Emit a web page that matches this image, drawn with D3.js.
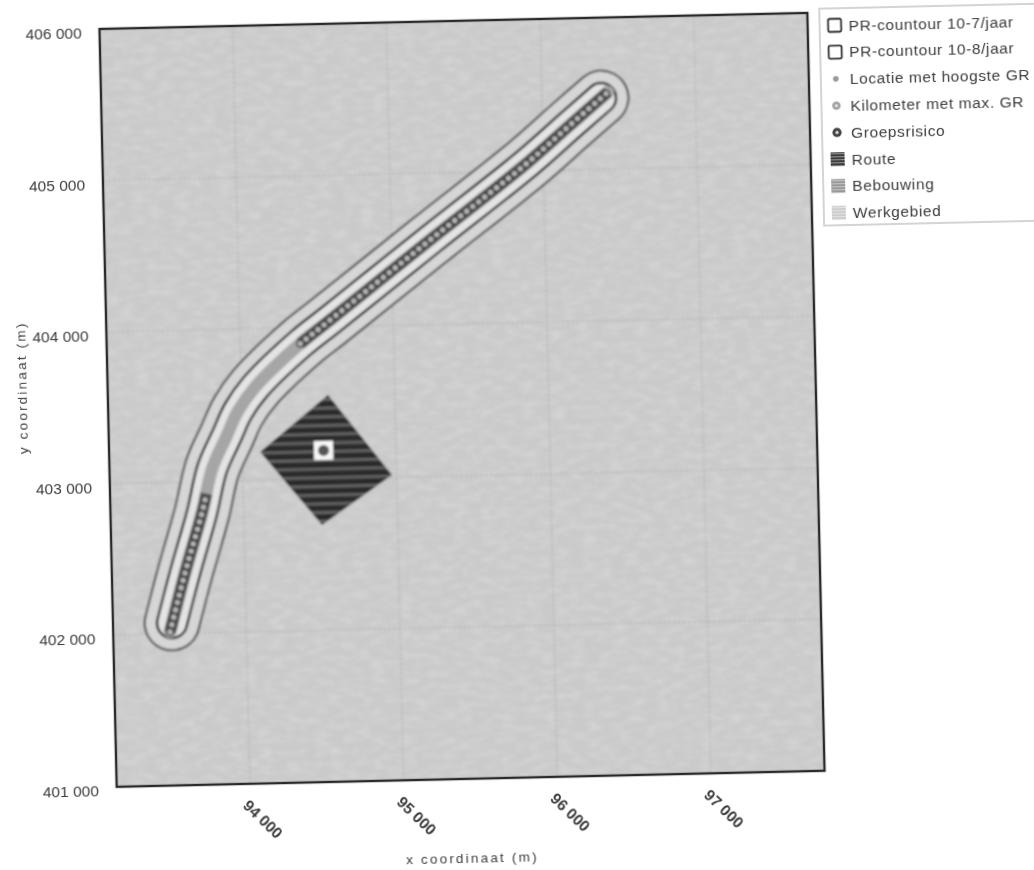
<!DOCTYPE html>
<html>
<head>
<meta charset="utf-8">
<script src="https://cdnjs.cloudflare.com/ajax/libs/d3/7.8.5/d3.min.js"></script>
<style>
  body { margin: 0; background: #fff; }
  text { font-family: "Liberation Sans", Arial, sans-serif; fill: #3c3c3c; }
</style>
</head>
<body>
<div id="chart"></div>
<script>
// values, in metres
var xTicks = [94000, 95000, 96000, 97000];
var yTicks = [401000, 402000, 403000, 404000, 405000, 406000];
var xDomain = [93133, 97739];
var yDomain = [401000, 406000];

var routeX = [93503, 93609, 93728, 93802, 93900, 93978, 94092, 94392, 94589, 95251, 95894, 96179, 96431];
var routeY = [402013, 402400, 402793, 403087, 403297, 403460, 403615, 403895, 404046, 404559, 405052, 405296, 405509];

// axis of the risk contours, a bit shorter than the route
var contourX = [93517, 93609, 93728, 93802, 93900, 93978, 94092, 94392, 94589, 95251, 95894, 96179, 96385];
var contourY = [402072, 402400, 402793, 403087, 403297, 403460, 403615, 403895, 404046, 404559, 405052, 405296, 405470];

// the two stretches of the route with the dark chain of km points
var chainSouthX = [93503, 93609, 93728, 93760];
var chainSouthY = [402013, 402400, 402793, 402920];
var chainNorthX = routeX.slice(7);
var chainNorthY = routeY.slice(7);

var areaX = [94565, 94970, 94507, 94115];
var areaY = [403552, 403015, 402696, 403187];

var buildingX = [94466, 94590];
var buildingY = [403125, 403250];
var riskX = [94528];
var riskY = [403187];

var legendLabels = ["PR-countour 10-7/jaar", "PR-countour 10-8/jaar", "Locatie met hoogste GR",
  "Kilometer met max. GR", "Groepsrisico", "Route", "Bebouwing", "Werkgebied"];
var legendKinds = ["box", "box", "dotS", "dotM", "dotL", "route", "building", "area"];

var W = 1034, H = 870;
var plotW = 708, plotH = 758;
var bg = "#cacaca";

var x = d3.scaleLinear().domain(xDomain).range([0, plotW]);
var y = d3.scaleLinear().domain(yDomain).range([plotH, 0]);

var svg = d3.select("#chart").append("svg").attr("width", W).attr("height", H).style("display", "block");
var defs = svg.append("defs");

// scanner softness
function blur(id, amount) {
  defs.append("filter").attr("id", id)
    .attr("filterUnits", "userSpaceOnUse")
    .attr("x", -150).attr("y", -60).attr("width", W + 300).attr("height", H + 120)
    .append("feGaussianBlur").attr("stdDeviation", amount);
}
blur("soft", 0.4);
blur("softer", 0.8);

// blocky jpeg-like noise on the plot background
var noise = defs.append("filter").attr("id", "grain")
  .attr("x", 0).attr("y", 0).attr("width", 1).attr("height", 1);
noise.append("feTurbulence").attr("type", "fractalNoise")
  .attr("baseFrequency", "0.07 0.16").attr("numOctaves", 3).attr("seed", 9);
noise.append("feColorMatrix").attr("values", "0 0 0 0 1  0 0 0 0 1  0 0 0 0 1  1.5 0 0 0 -0.6");

function stripes(id, size, base, line, lineH) {
  var p = defs.append("pattern").attr("id", id).attr("patternUnits", "userSpaceOnUse")
    .attr("width", size).attr("height", size);
  p.append("rect").attr("width", size).attr("height", size).attr("fill", base);
  p.append("rect").attr("width", size).attr("height", lineH).attr("fill", line);
}
stripes("areaFill", 8.7, "#2c2c2c", "#686868", 2.6);
stripes("routeIcon", 3, "#3a3a3a", "#9a9a9a", 1);
stripes("buildingIcon", 3, "#8c8c8c", "#d4d4d4", 1.2);
stripes("areaIcon", 3, "#b8b8b8", "#f0f0f0", 1.5);

// whole drawing sits slightly crooked, it is a scan
var g = svg.append("g")
  .attr("transform", "translate(99.5,29) rotate(-1.3)");

var plot = g.append("g").attr("filter", "url(#softer)");
plot.append("rect").attr("width", plotW).attr("height", plotH).attr("fill", bg);
plot.append("rect").attr("width", plotW).attr("height", plotH).attr("filter", "url(#grain)").attr("opacity", 0.28);

// grid
plot.selectAll(".gx").data(xTicks).enter().append("line")
  .attr("x1", function(d) { return x(d); }).attr("x2", function(d) { return x(d); })
  .attr("y1", 0).attr("y2", plotH)
  .attr("stroke", "#b4b4b4").attr("stroke-width", 1.2).attr("stroke-dasharray", "3 2");
plot.selectAll(".gy").data(yTicks.slice(1, -1)).enter().append("line")
  .attr("x1", 0).attr("x2", plotW)
  .attr("y1", function(d) { return y(d); }).attr("y2", function(d) { return y(d); })
  .attr("stroke", "#b4b4b4").attr("stroke-width", 1.2).attr("stroke-dasharray", "3 2");

function linePath(xs, ys) {
  var line = d3.line().curve(d3.curveCatmullRom)
    .x(function(d) { return x(d); })
    .y(function(d, i) { return y(ys[i]); });
  return line(xs);
}

function tube(xs, ys, width, color) {
  return plot.append("path").attr("d", linePath(xs, ys))
    .attr("fill", "none").attr("stroke", color).attr("stroke-width", width)
    .attr("stroke-linecap", "round").attr("stroke-linejoin", "round");
}

// contours: a wide dark tube with a slightly narrower one on top
tube(contourX, contourY, 57, "#4a4a4a");
tube(contourX, contourY, 52.5, "#d6d6d6");
tube(contourX, contourY, 32.5, "#151515");
tube(contourX, contourY, 27.5, "#e4e4e4");

// route body
tube(routeX, routeY, 12.5, "#a6a6a6");

// ring chain on the two dark stretches
function chain(xs, ys) {
  var path = plot.append("path").attr("d", linePath(xs, ys))
    .attr("fill", "none").attr("stroke", "#555").attr("stroke-width", 12);
  var node = path.node();
  var steps = d3.range(0, node.getTotalLength(), 7.6);
  plot.selectAll(null).data(steps).enter().append("circle")
    .attr("cx", function(d) { return node.getPointAtLength(d).x; })
    .attr("cy", function(d) { return node.getPointAtLength(d).y; })
    .attr("r", 3.4)
    .attr("fill", "#b8b8b8").attr("stroke", "#333").attr("stroke-width", 1.5);
}
chain(chainSouthX, chainSouthY);
chain(chainNorthX, chainNorthY);

// werkgebied diamond
plot.append("polygon")
  .attr("points", areaX.map(function(d, i) { return x(d) + "," + y(areaY[i]); }).join(" "))
  .attr("fill", "url(#areaFill)");

plot.append("rect")
  .attr("x", x(buildingX[0])).attr("y", y(buildingY[1]))
  .attr("width", x(buildingX[1]) - x(buildingX[0]))
  .attr("height", y(buildingY[0]) - y(buildingY[1]))
  .attr("fill", "#f8f8f8");
plot.selectAll(".risk").data(riskX).enter().append("circle")
  .attr("cx", function(d) { return x(d); })
  .attr("cy", function(d, i) { return y(riskY[i]); })
  .attr("r", 5.5).attr("fill", "#555");

var labels = g.append("g").attr("filter", "url(#soft)");

labels.append("rect").attr("width", plotW).attr("height", plotH)
  .attr("fill", "none").attr("stroke", "#2a2a2a").attr("stroke-width", 2.4);

// axes
var nf = d3.formatLocale({ decimal: ".", thousands: " ", grouping: [3], currency: ["", ""] }).format(",");

var yAxis = labels.append("g").call(d3.axisLeft(y).tickValues(yTicks).tickFormat(nf).tickSize(0).tickPadding(18));
yAxis.select(".domain").remove();
yAxis.selectAll("text").attr("font-size", 15.5).attr("dy", "0.55em")
  .attr("style", "font-family:'Liberation Sans';fill:#3c3c3c");

var xAxis = labels.append("g").attr("transform", "translate(0," + plotH + ")")
  .call(d3.axisBottom(x).tickValues(xTicks).tickFormat(nf).tickSize(0).tickPadding(0));
xAxis.select(".domain").remove();
xAxis.selectAll("text")
  .attr("font-size", 15.5).attr("text-anchor", "start")
  .attr("x", 0).attr("y", 0).attr("dy", "0.35em")
  .attr("transform", "translate(-5,19) rotate(45)")
  .attr("style", "font-family:'Liberation Sans';font-weight:bold;fill:#3c3c3c");

labels.append("text").attr("x", plotW / 2).attr("y", plotH + 84)
  .attr("text-anchor", "middle").attr("font-size", 13.5).style("letter-spacing", "2.2px")
  .text("x coordinaat (m)");
labels.append("text").attr("transform", "translate(-81,357) rotate(-90)")
  .attr("text-anchor", "middle").attr("font-size", 13.5).style("letter-spacing", "2.2px")
  .text("y coordinaat (m)");

// legend
var rowH = 26.8;
var legend = labels.append("g").attr("transform", "translate(735,13)");
legend.append("rect").attr("x", -15).attr("y", -17).attr("width", 300).attr("height", 217)
  .attr("fill", "#fff").attr("stroke", "#d4d4d4").attr("stroke-width", 2);

var rows = legend.selectAll(".row").data(legendLabels).enter().append("g")
  .attr("transform", function(d, i) { return "translate(0," + i * rowH + ")"; });

rows.append("text").attr("x", 14).attr("y", 5.5).attr("font-size", 15.5)
  .style("letter-spacing", "0.6px").text(function(d) { return d; });

rows.each(function(d, i) {
  var row = d3.select(this), kind = legendKinds[i];
  if (kind == "box") {
    row.append("rect").attr("x", -6.5).attr("y", -6.5).attr("width", 13).attr("height", 13).attr("rx", 1.5)
      .attr("fill", "#fff").attr("stroke", "#333").attr("stroke-width", 1.8);
  } else if (kind == "dotS") {
    row.append("circle").attr("r", 2.8).attr("fill", "#9a9a9a");
  } else if (kind == "dotM") {
    row.append("circle").attr("r", 4.2).attr("fill", "#a0a0a0");
    row.append("circle").attr("r", 1.6).attr("fill", "#e4e4e4");
  } else if (kind == "dotL") {
    row.append("circle").attr("r", 4.6).attr("fill", "#444");
    row.append("circle").attr("r", 1.6).attr("fill", "#ddd");
  } else {
    row.append("rect").attr("x", -7).attr("y", -7).attr("width", 14).attr("height", 14)
      .attr("fill", "url(#" + kind + "Icon)");
  }
});
</script>
</body>
</html>
